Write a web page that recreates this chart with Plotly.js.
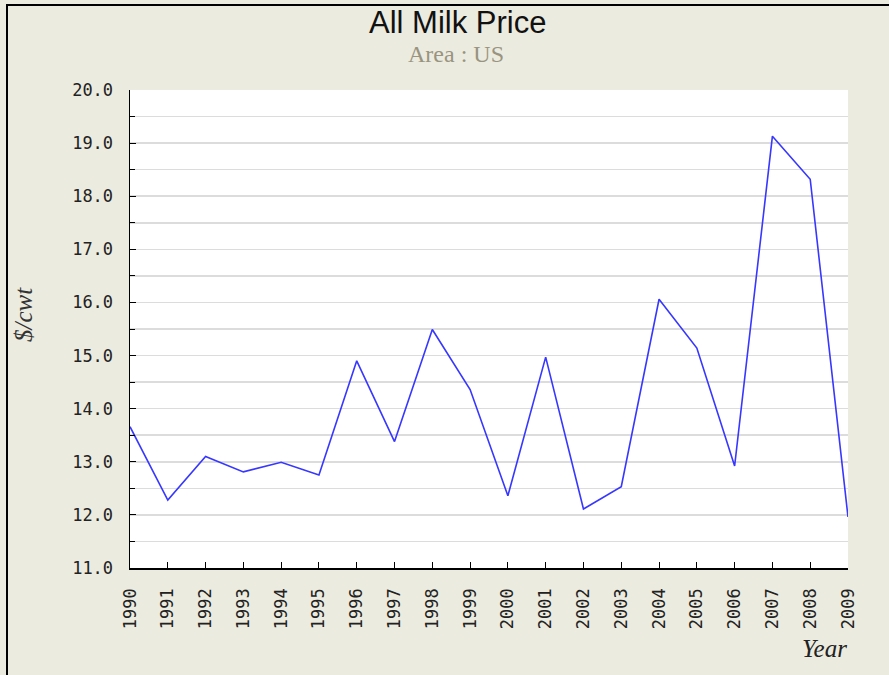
<!DOCTYPE html>
<html>
<head>
<meta charset="utf-8">
<script src="https://cdn.plot.ly/plotly-3.0.1.min.js"></script>
<style>html,body{margin:0;padding:0;background:#ECEBDF;}#chart{width:889px;height:675px;}</style>
</head>
<body>
<div id="chart"></div>
<script>
const years = [1990,1991,1992,1993,1994,1995,1996,1997,1998,1999,2000,2001,2002,2003,2004,2005,2006,2007,2008,2009];
const prices = [13.66,12.28,13.10,12.81,12.99,12.75,14.90,13.38,15.49,14.36,12.36,14.97,12.11,12.53,16.06,15.14,12.92,19.13,18.32,11.96];
const titleText = "All Milk Price";
const subtitleText = "Area : US";
const yTitle = "$/cwt";
const xTitle = "Year";

const L = 130, R = 41, T = 90, B = 107, W = 889, H = 675;
const pw = W - L - R, ph = H - T - B;
const px = v => (v - L) / pw;          // pixel x -> paper x
const py = v => (H - B - v) / ph;      // pixel y -> paper y

const trace = {
  x: years, y: prices, type: 'scatter', mode: 'lines',
  line: {color: 'rgb(55,55,255)', width: 1.6},
  hoverinfo: 'x+y'
};

const tickFont = {family: 'DejaVu Sans Mono, monospace', size: 17, color: '#222'};

const layout = {
  width: W, height: H,
  margin: {l: L, r: R, t: T, b: B, pad: 0},
  paper_bgcolor: '#ECEBDF',
  plot_bgcolor: '#FFFFFF',
  showlegend: false,
  xaxis: {
    type: 'linear', range: [years[0], years[years.length-1]],
    tickmode: 'array', tickvals: years, ticktext: years.map(String),
    tickangle: -90, ticks: 'inside', ticklen: 6, tickcolor: '#000', tickwidth: 1,
    showline: true, linecolor: '#000', linewidth: 1.5, mirror: false,
    showgrid: false, zeroline: false, tickfont: tickFont, ticklabelstandoff: 12
  },
  yaxis: {
    range: [11, 20], tickmode: 'linear', tick0: 11, dtick: 1, tickformat: '.1f',
    ticks: 'inside', ticklen: 6, tickcolor: '#000', tickwidth: 1,
    showline: true, linecolor: '#000', linewidth: 1.5,
    showgrid: true, gridcolor: '#DCDCDC', gridwidth: 1.5, zeroline: false,
    tickfont: tickFont, ticklabelstandoff: 12,
    minor: {dtick: 0.5, ticks: 'inside', ticklen: 5, tickcolor: '#000', showgrid: true, gridcolor: '#DCDCDC', gridwidth: 1.5}
  },
  shapes: [
    {type: 'line', xref: 'paper', yref: 'paper', x0: px(7), x1: px(7), y0: py(4), y1: py(H+2), line: {color: '#000', width: 2}},
    {type: 'line', xref: 'paper', yref: 'paper', x0: px(6), x1: px(W+2), y0: py(5), y1: py(5), line: {color: '#000', width: 2}}
  ],
  annotations: [
    {text: titleText, xref: 'paper', yref: 'paper', x: px(457), y: py(23), xanchor: 'center', yanchor: 'middle', showarrow: false,
     font: {family: 'Liberation Sans, Arial, sans-serif', size: 31, color: '#111'}},
    {text: subtitleText, xref: 'paper', yref: 'paper', x: px(456), y: py(54), xanchor: 'center', yanchor: 'middle', showarrow: false,
     font: {family: 'Liberation Serif, Times New Roman, serif', size: 24, color: '#999480'}},
    {text: '<i>' + yTitle + '</i>', xref: 'paper', yref: 'paper', x: px(23), y: py(315), xanchor: 'center', yanchor: 'middle', showarrow: false, textangle: -90,
     font: {family: 'Liberation Serif, Times New Roman, serif', size: 25, color: '#333'}},
    {text: '<i>' + xTitle + '</i>', xref: 'paper', yref: 'paper', x: px(849), y: py(648), xanchor: 'right', yanchor: 'middle', showarrow: false,
     font: {family: 'Liberation Serif, Times New Roman, serif', size: 25, color: '#222'}}
  ]
};

Plotly.newPlot('chart', [trace], layout, {displayModeBar: false, staticPlot: true});
</script>
</body>
</html>
